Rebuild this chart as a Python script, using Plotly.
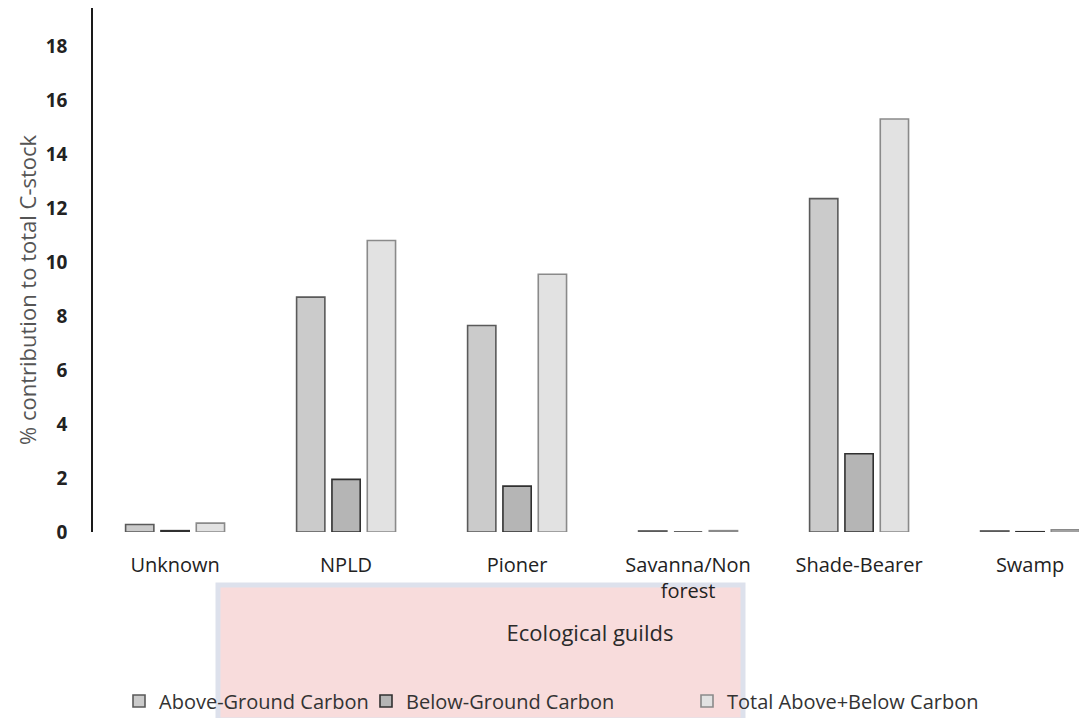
import plotly.graph_objects as go

categories = ["Unknown", "NPLD", "Pioner", "Savanna/Non<br>forest", "Shade-Bearer", "Swamp"]
above_ground = [0.28, 8.7, 7.65, 0.04, 12.35, 0.04]
below_ground = [0.05, 1.95, 1.7, 0.0, 2.9, 0.01]
total_carbon = [0.33, 10.8, 9.55, 0.05, 15.3, 0.08]
y_ticks = [0, 2, 4, 6, 8, 10, 12, 14, 16, 18]

# page body adds an 8px offset; size the figure so the visible frame matches
OFF = 8
W, H = 1087 - OFF, 718 - OFF
L, R, T, B = 85, 0, 0, 186
plot_w = W - L - R
plot_h = H - T - B


def px_x(px):
    return (px - OFF - L) / plot_w


def px_y(py):
    return (H - B - (py - OFF)) / plot_h


font_family = "Open Sans, Lato, sans-serif"

fig = go.Figure()
fig.add_trace(go.Bar(
    x=categories, y=above_ground, name="Above-Ground Carbon", legend="legend",
    marker=dict(color="#cbcbcb", line=dict(color="#5a5a5a", width=1.6)),
))
fig.add_trace(go.Bar(
    x=categories, y=below_ground, name="Below-Ground Carbon", legend="legend2",
    marker=dict(color="#b5b5b5", line=dict(color="#303030", width=1.6)),
))
fig.add_trace(go.Bar(
    x=categories, y=total_carbon, name="Total Above+Below Carbon", legend="legend3",
    marker=dict(color="#e2e2e2", line=dict(color="#8a8a8a", width=1.6)),
))

fig.add_shape(
    type="rect", xref="paper", yref="paper",
    x0=px_x(218), x1=px_x(743), y0=px_y(720), y1=px_y(585),
    fillcolor="#f8dcdc", line=dict(color="#dde1ec", width=5), layer="below",
)

fig.add_annotation(
    text="% contribution to total C-stock", textangle=-90,
    xref="paper", yref="paper", x=px_x(10), y=px_y(290),
    xanchor="left", yanchor="middle", showarrow=False,
    font=dict(size=22, color="#555555"),
)

legend_common = dict(
    orientation="h", xanchor="left", yanchor="middle", y=px_y(701),
    font=dict(size=20, color="#333333"), bgcolor="rgba(0,0,0,0)",
)

fig.update_layout(
    width=W, height=H, showlegend=True,
    margin=dict(l=L, r=R, t=T, b=B, autoexpand=False),
    paper_bgcolor="white", plot_bgcolor="rgba(0,0,0,0)",
    barmode="group", bargap=0.38, bargroupgap=0.2,
    font=dict(family=font_family, color="#222222"),
    legend=dict(x=px_x(133 - 14), **legend_common),
    legend2=dict(x=px_x(380 - 14), **legend_common),
    legend3=dict(x=px_x(701 - 14), **legend_common),
    xaxis=dict(
        range=[-0.48, 5.333], showgrid=False, showline=False, zeroline=False,
        ticks="", ticklabelstandoff=19, tickfont=dict(size=20, color="#222222"),
        title=dict(text="Ecological guilds", font=dict(size=22, color="#2a2a2a"), standoff=22),
    ),
    yaxis=dict(
        range=[0, 19.41], tickvals=y_ticks, showgrid=False, zeroline=False,
        showline=True, linecolor="#1a1a1a", linewidth=1.5,
        ticks="", ticklabelstandoff=20,
        tickfont=dict(size=19, color="#222222", weight="bold"),
    ),
)

fig.write_html("out.html")
